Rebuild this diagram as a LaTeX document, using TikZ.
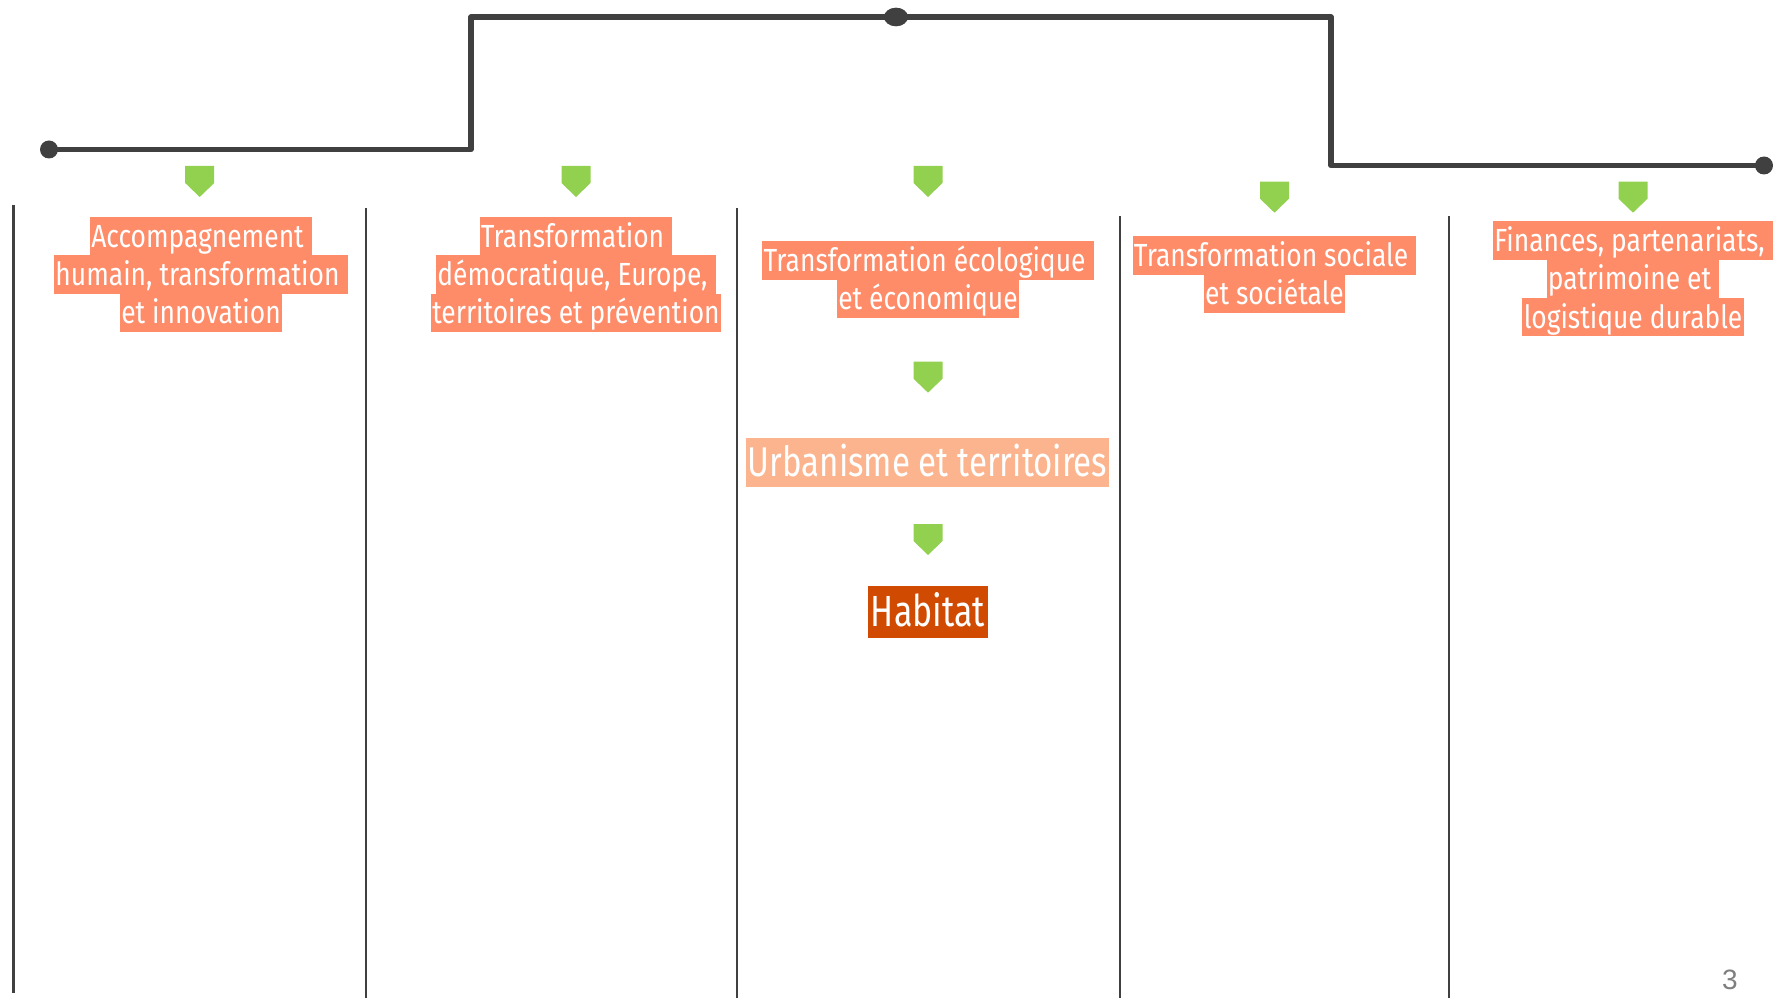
\documentclass[tikz,border=0pt]{standalone}
\usepackage{fontspec}
\setmainfont[FakeStretch=0.825]{Fira Sans}
\newfontfamily\urbafont[FakeStretch=0.795]{Fira Sans}
\newfontfamily\habfont[FakeStretch=0.78]{Fira Sans}
\newfontfamily\numfont{Liberation Sans}
\usepackage{tikz}
\usetikzlibrary{shapes.geometric}
\definecolor{wiregray}{HTML}{404040}
\definecolor{leafgreen}{HTML}{92D050}
\definecolor{poleorange}{RGB}{255,140,105}
\definecolor{paleorange}{RGB}{251,180,142}
\definecolor{deeporange}{RGB}{208,74,2}
\definecolor{pagegray}{HTML}{7F7F7F}
% one highlight box per line of text
\newcommand{\hl}[2][poleorange]{{\fboxsep=0pt\colorbox{#1}{\vrule height 0.94em depth 0.26em width 0pt\kern1pt#2\kern1pt}}}
\tikzset{
    wire/.style={line width=4.2pt, draw=wiregray, line join=round}, % the step line at the top
    wiredot/.style={circle, fill=wiregray, inner sep=0pt, minimum size=13.5pt},
    colsep/.style={line width=1.9pt, draw=wiregray}, % column separators
    pole/.style={inner sep=0pt, align=center, text=white, font=\fontsize{24}{28.8}\selectfont},
    gmark/.pic={\fill[leafgreen] (-14.5,0) -- (14.5,0) -- (14.5,17) -- (0,31) -- (-14.5,17) -- cycle;}
}

\begin{document}
\begin{tikzpicture}[x=0.75pt, y=-0.75pt]
    \useasboundingbox (0,0) rectangle (1789,998);

    % top line
    \node[wiredot] (wl) at (49,149.5) {};
    \node[wiredot, ellipse, minimum width=18pt, minimum height=14pt] (hub) at (896,17) {};
    \node[wiredot] (wr) at (1764,165.5) {};
    \coordinate (kl) at (471,17);
    \coordinate (kr) at (1331,17);
    \draw[wire] (wl.center) -| (kl) -- (hub.center) -- (kr) |- (wr.center);

    % columns
    \foreach \x/\t/\b in {13.7/205/993, 366/208/998, 737/208/998, 1120/216/998, 1449/216/998}
        \draw[colsep] (\x,\t) -- (\x,\b);

    \foreach \x/\y in {199.7/166, 576/166, 928/166, 1274.5/181.7, 1633/181.7, 928/361.7, 928/524}
        \pic at (\x,\y) {gmark};

    \node[pole, anchor=north] (p1) at (201,216.7) {\hl{Accompagnement\ }\\\hl{humain, transformation\ }\\\hl{et innovation}};
    \node[pole, anchor=north] (p2) at (576,216.7) {\hl{Transformation\ }\\\hl{démocratique, Europe,\ }\\\hl{territoires et prévention}};
    \node[pole, anchor=north] (p3) at (928,241) {\hl{Transformation écologique\ }\\\hl{et économique}};
    \node[pole, anchor=north] (p4) at (1274.5,236) {\hl{Transformation sociale\ }\\\hl{et sociétale}};
    \node[pole, anchor=north] (p5) at (1633,221) {\hl{Finances, partenariats,\ }\\\hl{patrimoine et\ }\\\hl{logistique durable}};

    \node[pole, font=\urbafont\fontsize{31.2}{37.4}\selectfont] (urba) at (927.5,462.5) {\hl[paleorange]{Urbanisme et territoires}};
    \node[pole, font=\habfont\fontsize{32.7}{39.2}\selectfont] (habitat) at (928,612) {\hl[deeporange]{\kern1pt Habitat\kern1pt}};

    \node[text=pagegray, font=\numfont\fontsize{21}{25}\selectfont] (page) at (1730,980) {3};
\end{tikzpicture}
\end{document}
